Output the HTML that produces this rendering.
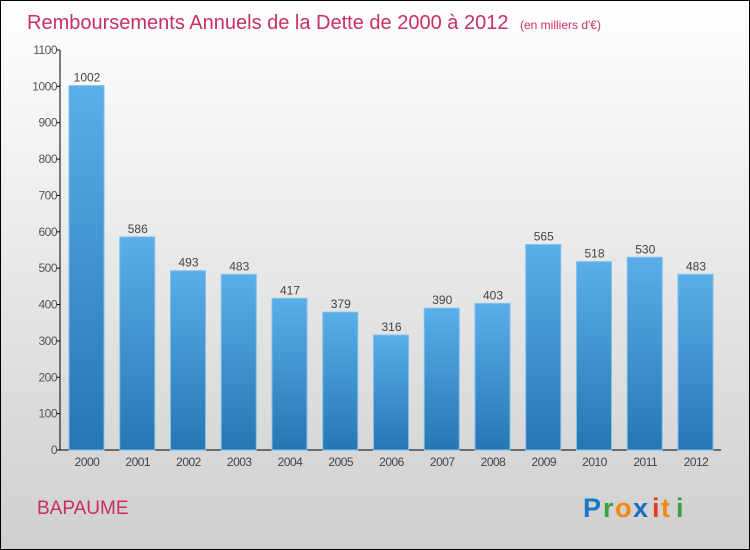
<!DOCTYPE html>
<html><head><meta charset="utf-8"><style>
body{margin:0;width:750px;height:550px;overflow:hidden}
svg{display:block;font-family:"Liberation Sans",sans-serif}
</style></head><body>
<svg id="c" width="750" height="550">
<defs>
<linearGradient id="bg" x1="0" y1="0" x2="0" y2="1"><stop offset="0" stop-color="#ffffff"/><stop offset="1" stop-color="#cfcfcf"/></linearGradient>
<linearGradient id="bar" x1="0" y1="0" x2="0" y2="1"><stop offset="0" stop-color="#5aafe8"/><stop offset="1" stop-color="#2676b4"/></linearGradient>
</defs>
<rect x="0.5" y="0.5" width="749" height="549" fill="url(#bg)" stroke="#000"/>
<text x="27" y="29" font-size="20" fill="#c8305e">Remboursements Annuels de la Dette de 2000 à 2012 <tspan font-size="12" dx="6">(en milliers d'€)</tspan></text>
<g id="ax"></g><g id="bars"></g>
<text x="37" y="514" font-size="19" fill="#c8305e">BAPAUME</text>
<g font-size="27" font-family="Liberation Sans,sans-serif" font-weight="bold">
<text x="583" y="517" fill="#1a78c8">P</text><text x="603" y="517" fill="#3aa040">r</text><text x="615" y="517" fill="#f08a10">o</text><text x="633" y="517" fill="#1a6ec0">x</text><text x="652" y="517" fill="#e04020">i</text><text x="661" y="517" fill="#f08a10">t</text><text x="676" y="517" fill="#3aa040">i</text>
</g>
</svg>
<script>
const years=["2000","2001","2002","2003","2004","2005","2006","2007","2008","2009","2010","2011","2012"];
const values=[1002,586,493,483,417,379,316,390,403,565,518,530,483];
const ticks=[0,100,200,300,400,500,600,700,800,900,1000,1100];
const NS="http://www.w3.org/2000/svg";
const y=v=>450-v*400/1100, x=i=>86+i*50.75;
function mk(t,a,p,txt){const e=document.createElementNS(NS,t);for(const k in a)e.setAttribute(k,a[k]);if(txt!==undefined)e.textContent=txt;p.appendChild(e);return e;}
const ax=document.getElementById('ax'),bg=document.getElementById('bars');
let l=mk('line',{x1:60,y1:50,x2:60,y2:450,stroke:'#000'},ax);


l=mk('line',{x1:60,y1:450,x2:721,y2:450,stroke:'#000'},ax);


ticks.forEach(t=>{
 const tk=mk('line',{x1:56,x2:60,y1:y(t),y2:y(t),stroke:'#000'},ax);
 
 
 const tl=mk('text',{x:57,y:y(t)+4,'font-size':12,fill:'#555','text-anchor':'end','letter-spacing':'-0.5'},ax,t);
 
 
});
years.forEach((yr,i)=>{
 const v=values[i];
 const r=mk('rect',{x:x(i)-17,y:y(v),width:35,height:450-y(v),fill:'url(#bar)',stroke:'#7cc0ee','stroke-width':1},bg);
 
 
 const vl=mk('text',{x:x(i)+1,y:y(v)-4,'font-size':12,fill:'#444','text-anchor':'middle'},bg,v);
 
 
 const xl=mk('text',{x:x(i)+1,y:466,'font-size':12,fill:'#444','text-anchor':'middle','letter-spacing':'-0.5'},bg,yr);
 
 
});
</script>
</body></html>
